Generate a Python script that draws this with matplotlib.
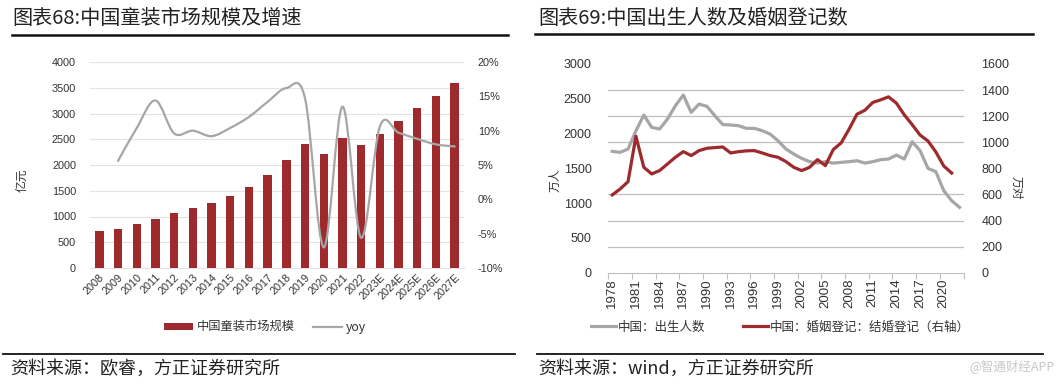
import numpy as np
import matplotlib
matplotlib.use('Agg')
import matplotlib.pyplot as plt
from matplotlib.path import Path
from matplotlib.patches import PathPatch, Patch
from matplotlib.lines import Line2D

plt.rcParams['font.family'] = ['Liberation Sans', 'Noto Sans CJK SC']
CJK = ['Noto Sans CJK SC', 'DejaVu Sans']

# ---------------- data: left chart ----------------
years_l = ['2008', '2009', '2010', '2011', '2012', '2013', '2014', '2015', '2016', '2017',
           '2018', '2019', '2020', '2021', '2022', '2023E', '2024E', '2025E', '2026E', '2027E']
market = [720, 760, 850, 960, 1060, 1170, 1270, 1400, 1570, 1810,
          2100, 2400, 2210, 2520, 2380, 2610, 2860, 3100, 3340, 3600]
yoy = [None, 5.6, 10.4, 14.4, 9.6, 10.0, 9.2, 10.4, 12.0, 14.2,
       16.2, 14.7, -7.0, 13.5, -5.6, 10.6, 9.7, 8.8, 8.0, 7.7]

# ---------------- data: right chart ----------------
years_r = list(range(1978, 2023))
births = [1744, 1730, 1778, 2040, 2266, 2089, 2065, 2209, 2400, 2554, 2305, 2424, 2391, 2257, 2130,
          2123, 2113, 2075, 2075, 2041, 1993, 1897, 1778, 1706, 1643, 1596, 1576, 1596, 1576, 1586,
          1596, 1610, 1576, 1596, 1624, 1634, 1691, 1634, 1883, 1754, 1500, 1452, 1179, 1035, 939]
marriages = [596, 642, 698, 1046, 808, 757, 783, 834, 885, 928, 898, 936, 954, 959, 964,
             918, 928, 934, 936, 918, 898, 885, 852, 808, 783, 808, 867, 821, 944, 995,
             1100, 1215, 1245, 1305, 1325, 1348, 1300, 1210, 1135, 1055, 1010, 925, 818, 764]

BAR = '#9E2A2D'
GRAY = '#A6A6A6'
TXT = '#333333'

W, H = 1059, 386
fig = plt.figure(figsize=(W / 100, H / 100), dpi=100)


def fx(px):
    return px / W


def fy(py):
    return 1 - py / H


def smooth_path(xs, ys):
    n = len(xs)
    verts = [(xs[0], ys[0])]
    codes = [Path.MOVETO]
    for i in range(n - 1):
        x0, y0 = xs[max(i - 1, 0)], ys[max(i - 1, 0)]
        x1, y1 = xs[i], ys[i]
        x2, y2 = xs[i + 1], ys[i + 1]
        x3, y3 = xs[min(i + 2, n - 1)], ys[min(i + 2, n - 1)]
        verts += [(x1 + (x2 - x0) / 6, y1 + (y2 - y0) / 6),
                  (x2 - (x3 - x1) / 6, y2 - (y3 - y1) / 6),
                  (x2, y2)]
        codes += [Path.CURVE4] * 3
    return Path(verts, codes)


# ================= LEFT CHART =================
axL = fig.add_axes([fx(90), fy(268), fx(464 - 90), (268 - 62) / H])
xl = np.arange(len(years_l))
axL.bar(xl, market, width=0.45, color=BAR, zorder=3)
axL.set_xlim(-0.5, len(years_l) - 0.5)
axL.set_ylim(0, 4000)
axL.set_yticks(np.arange(0, 4001, 500))
axL.yaxis.grid(True, color='#E3E3E3', linewidth=0.8, zorder=0)
axL.set_axisbelow(True)
for s in axL.spines.values():
    s.set_visible(False)
axL.spines['bottom'].set_visible(True)
axL.spines['bottom'].set_color('#E3E3E3')
axL.tick_params(axis='y', length=0, pad=10, labelsize=7.8, labelcolor=TXT)
axL.set_xticks(xl)
axL.set_xticklabels(years_l, rotation=45, ha='right', va='top', rotation_mode='anchor')
axL.tick_params(axis='x', length=0, pad=3, labelsize=7.8, labelcolor=TXT)

axL2 = axL.twinx()
axL2.set_ylim(-10, 20)
axL2.set_yticks(np.arange(-10, 21, 5))
axL2.set_yticklabels([f'{v}%' for v in range(-10, 21, 5)])
axL2.tick_params(axis='y', length=0, pad=10, labelsize=7.8, labelcolor=TXT)
for s in axL2.spines.values():
    s.set_visible(False)
yx = [i for i, v in enumerate(yoy) if v is not None]
yy = [v for v in yoy if v is not None]
axL2.add_patch(PathPatch(smooth_path(yx, yy), facecolor='none', edgecolor=GRAY,
                         linewidth=1.6, zorder=4, capstyle='round'))

fig.text(fx(22), fy(180), '亿元', rotation=90, ha='center', va='center',
         fontsize=8.5, family=CJK, color=TXT)

fig.legend(handles=[Patch(facecolor=BAR, edgecolor='none', label='中国童装市场规模'),
                    Line2D([], [], color=GRAY, lw=1.6, label='yoy')],
           loc='center', bbox_to_anchor=(fx(265), fy(327)), ncol=2, frameon=False,
           prop={'family': CJK, 'size': 8.8}, handlelength=2.4, handleheight=0.5,
           columnspacing=1.5, handletextpad=0.3, labelcolor=TXT)

fig.text(fx(12), fy(18), '图表68:中国童装市场规模及增速', ha='left', va='center',
         fontsize=14.5, family=CJK, color='#222222')
fig.add_artist(Line2D([fx(12), fx(508)], [fy(35), fy(35)], color='#111111', lw=1.8))
fig.add_artist(Line2D([fx(3), fx(515)], [fy(354), fy(354)], color='#111111', lw=1.3))
fig.text(fx(10), fy(369), '资料来源：欧睿，方正证券研究所', ha='left', va='center',
         fontsize=13, family=CJK, color='#222222', style='italic')

# ================= RIGHT CHART =================
axR = fig.add_axes([fx(608.3), fy(272.7), fx(963.5 - 608.3), (272.7 - 64) / H])
axR.plot(np.arange(len(births)), births, color=GRAY, lw=2.3, solid_joinstyle='round', zorder=3)
axR.set_xlim(-0.5, len(years_r) - 0.5)
axR.set_ylim(0, 3000)
axR.set_yticks(np.arange(0, 3001, 500))
axR.set_yticks(np.linspace(0, 3000, 9), minor=True)
axR.yaxis.grid(True, which='minor', color='#BFBFBF', linewidth=0.9, zorder=0)
axR.yaxis.grid(False, which='major')
axR.tick_params(axis='y', which='both', length=0)
axR.tick_params(axis='y', pad=12, labelsize=9, labelcolor=TXT)
axR.set_axisbelow(True)
for s in axR.spines.values():
    s.set_visible(False)
axR.spines['bottom'].set_visible(True)
axR.spines['bottom'].set_color('#BFBFBF')
lab_idx = list(range(0, len(years_r) - 1, 3))
axR.set_xticks([i - 0.5 for i in range(0, len(years_r) + 1, 3)])
axR.set_xticklabels([])
axR.tick_params(axis='x', which='major', length=4, color='#BFBFBF')
axR.set_xticks(lab_idx, minor=True)
axR.set_xticklabels([str(years_r[i]) for i in lab_idx], minor=True, rotation=90)
axR.tick_params(axis='x', which='minor', length=0, pad=4, labelsize=9.5, labelcolor=TXT)

axR2 = axR.twinx()
axR2.plot(np.arange(len(marriages)), marriages, color=BAR, lw=2.3, solid_joinstyle='round', zorder=4)
axR2.set_ylim(0, 1600)
axR2.set_yticks(np.arange(0, 1601, 200))
axR2.tick_params(axis='y', length=0, pad=13, labelsize=9, labelcolor=TXT)
for s in axR2.spines.values():
    s.set_visible(False)

fig.text(fx(555), fy(180), '万人', rotation=90, ha='center', va='center',
         fontsize=8.5, family=CJK, color=TXT)
fig.text(fx(1016), fy(188), '万对', rotation=270, ha='center', va='center',
         fontsize=8.5, family=CJK, color=TXT)

fig.legend(handles=[Line2D([], [], color=GRAY, lw=2.3, label='中国：出生人数'),
                    Line2D([], [], color=BAR, lw=2.3, label='中国：婚姻登记：结婚登记（右轴）')],
           loc='center', bbox_to_anchor=(fx(780), fy(327)), ncol=2, frameon=False,
           prop={'family': CJK, 'size': 9}, handlelength=2.0,
           columnspacing=3.0, handletextpad=0.15, labelcolor=TXT)

fig.text(fx(538), fy(18), '图表69:中国出生人数及婚姻登记数', ha='left', va='center',
         fontsize=14.5, family=CJK, color='#222222')
fig.add_artist(Line2D([fx(535), fx(1033)], [fy(34), fy(34)], color='#111111', lw=1.8))
fig.add_artist(Line2D([fx(537), fx(1043)], [fy(354), fy(354)], color='#111111', lw=1.3))
fig.text(fx(538), fy(369), '资料来源：wind，方正证券研究所', ha='left', va='center',
         fontsize=13, family=CJK, color='#222222', style='italic')
fig.text(fx(1055), fy(366), '@智通财经APP', ha='right', va='center',
         fontsize=9, family=CJK, color='#C8C8C8')

fig.savefig('out.png', dpi=100)
